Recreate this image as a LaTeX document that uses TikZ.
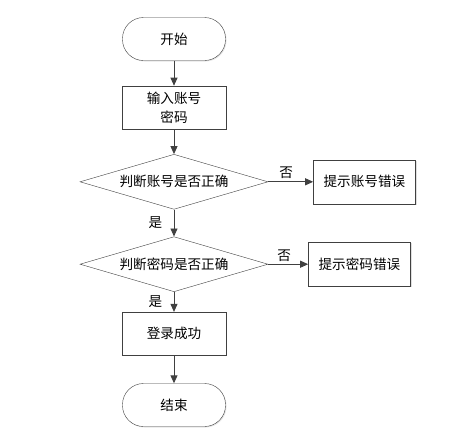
\documentclass[tikz,border=0pt]{standalone}
\usepackage{fontspec}
\usepackage{tikz}
\usetikzlibrary{arrows.meta,positioning,shapes.geometric,shadows}
\newfontfamily\cjk{Noto Sans CJK SC}
\definecolor{trazo}{HTML}{404040}

\begin{document}
\begin{tikzpicture}[
          x=1pt, y=-1pt,
          font=\cjk\fontsize{13.6}{19}\selectfont,
          term/.style={draw=trazo, rounded corners=21pt, fill=white, minimum width=103pt, minimum height=43pt,
                       drop shadow={shadow xshift=1pt, shadow yshift=-1pt, fill=black!20}},
          box/.style={draw=trazo, fill=white, align=center, minimum width=104pt, minimum height=43pt,
                      drop shadow={shadow xshift=1.2pt, shadow yshift=-1.2pt, fill=black!25}},
          cond/.style={diamond, draw=trazo, fill=white, aspect=3.3, inner sep=0pt,
                       minimum width=188pt, minimum height=55pt},
          fl/.style={-{Triangle[length=8pt, width=7pt]}, draw=trazo, line width=0.9pt}
        ]
        \useasboundingbox (0,0) rectangle (476,432);
        \node[term] (ini) at (174,39) {开始};
        \node[box, below=25pt of ini] (b1) {输入账号\\密码};
        \node[cond, below=25pt of b1] (d1) {判断账号是否正确};
        \node[box, right=45pt of d1, minimum width=102pt, minimum height=44pt] (e1) {提示账号错误};
        \node[cond, below=27pt of d1] (d2) {判断密码是否正确};
        \node[box, right=40pt of d2, minimum width=102pt, minimum height=44pt] (e2) {提示密码错误};
        \node[box, below=20pt of d2] (b2) {登录成功};
        \node[term, below=28pt of b2] (fin) {结束};
        \draw[fl] (ini) -- (b1);
        \draw[fl] (b1) -- (d1);
        \draw[fl] (d1) -- node[pos=0.4, above=-1pt] {否} (e1);
        \draw[fl] (d1) -- node[pos=0.5, left=8pt] {是} (d2);
        \draw[fl] (d2) -- node[pos=0.4, above=-1pt] {否} (e2);
        \draw[fl] (d2) -- node[pos=0.5, left=8pt] {是} (b2);
        \draw[fl] (b2) -- (fin);
      \end{tikzpicture}
\end{document}
